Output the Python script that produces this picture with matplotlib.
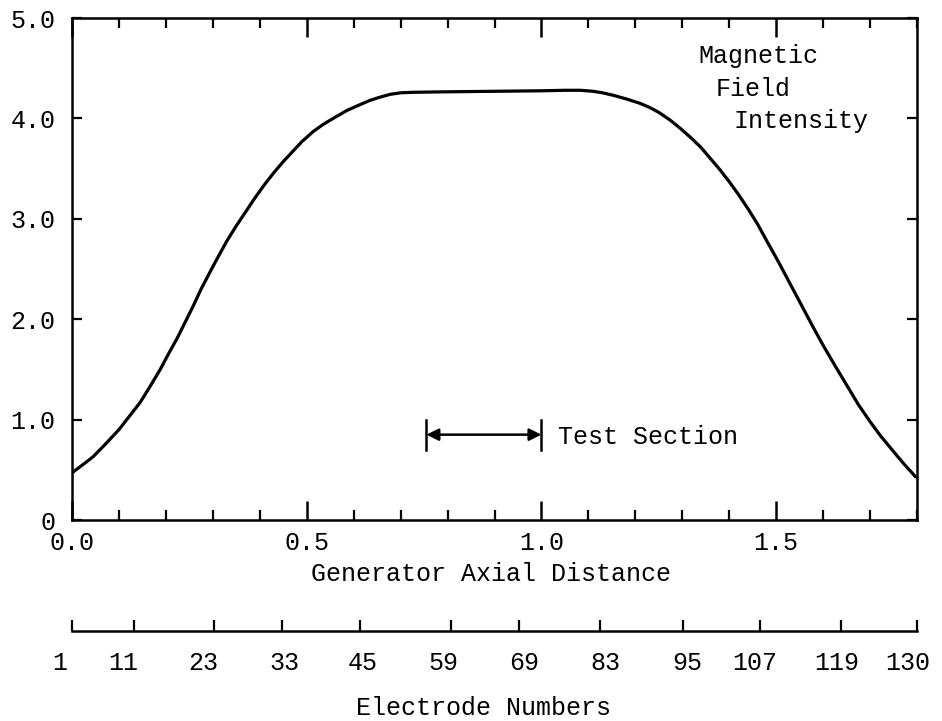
import matplotlib
matplotlib.use("Agg")
import matplotlib.pyplot as plt
from matplotlib.ticker import MultipleLocator
from matplotlib.transforms import blended_transform_factory

# curve
axial_distance = [0.00, 0.02, 0.045, 0.07, 0.10, 0.12, 0.145, 0.165, 0.188, 0.205,
                  0.224, 0.24, 0.258, 0.275, 0.294, 0.31, 0.33, 0.35, 0.37, 0.39,
                  0.41, 0.43, 0.45, 0.47, 0.49, 0.514, 0.535, 0.56, 0.586, 0.61,
                  0.635, 0.655, 0.678, 0.70, 0.727, 0.80, 0.90, 1.00, 1.05, 1.083,
                  1.11, 1.13, 1.153, 1.18, 1.21, 1.23, 1.25, 1.275, 1.296, 1.32,
                  1.34, 1.36, 1.38, 1.40, 1.42, 1.44, 1.46, 1.48, 1.505, 1.53,
                  1.555, 1.58, 1.60, 1.625, 1.652, 1.675, 1.70, 1.722, 1.745, 1.77,
                  1.797]
field_intensity = [0.47, 0.54, 0.63, 0.75, 0.90, 1.02, 1.17, 1.32, 1.50, 1.65,
                   1.81, 1.96, 2.13, 2.30, 2.47, 2.61, 2.78, 2.93, 3.07, 3.21,
                   3.34, 3.46, 3.57, 3.67, 3.77, 3.87, 3.94, 4.01, 4.08, 4.13,
                   4.18, 4.21, 4.24, 4.255, 4.26, 4.265, 4.27, 4.275, 4.28, 4.28,
                   4.27, 4.255, 4.23, 4.195, 4.15, 4.11, 4.06, 3.98, 3.90, 3.80,
                   3.71, 3.60, 3.49, 3.37, 3.24, 3.10, 2.95, 2.78, 2.57, 2.35,
                   2.13, 1.91, 1.74, 1.54, 1.33, 1.15, 0.98, 0.84, 0.71, 0.57,
                   0.43]

x_major = [0.0, 0.5, 1.0, 1.5]
x_major_labels = ["0.0", "0.5", "1.0", "1.5"]
y_ticks = [0, 1, 2, 3, 4, 5]
y_tick_labels = ["0", "1.0", "2.0", "3.0", "4.0", "5.0"]

test_section = (0.755, 1.0)
test_section_y = 0.85

electrode_numbers = ["1", "11", "23", "33", "45", "59", "69", "83", "95", "107", "119", "130"]
electrode_positions = [0.0, 0.132, 0.303, 0.447, 0.614, 0.807, 0.952, 1.125, 1.302,
                       1.466, 1.638, 1.80]
electrode_label_x = [-0.026, 0.109, 0.279, 0.452, 0.620, 0.792, 0.963, 1.136, 1.310,
                     1.455, 1.628, 1.781]

plt.rcParams["font.family"] = ["Liberation Mono", "DejaVu Sans Mono"]
plt.rcParams["font.size"] = 18

fig = plt.figure(figsize=(9.42, 7.21), dpi=100)
ax = fig.add_axes([72 / 942, 1 - 520 / 721, 845 / 942, 502 / 721])

ax.plot(axial_distance, field_intensity, color="black", lw=2.3,
        solid_capstyle="round", solid_joinstyle="round")
ax.set_xlim(0, 1.8)
ax.set_ylim(0, 5)

for s in ax.spines.values():
    s.set_linewidth(1.8)

ax.set_xticks(x_major)
ax.set_xticklabels(x_major_labels)
ax.xaxis.set_minor_locator(MultipleLocator(0.1))
ax.set_yticks(y_ticks)
ax.set_yticklabels(y_tick_labels)
ax.tick_params(axis="x", which="major", direction="in", top=True, length=14, width=1.8, pad=8)
ax.tick_params(axis="x", which="minor", direction="in", top=True, length=7, width=1.6)
ax.tick_params(axis="y", which="major", direction="in", right=True, length=7, width=1.6, pad=12)

# test section marker
ax.annotate("", xy=(test_section[1], test_section_y), xytext=(test_section[0], test_section_y),
            arrowprops=dict(arrowstyle="<|-|>", color="black", lw=1.8, mutation_scale=18,
                            shrinkA=0, shrinkB=0))
for xs in test_section:
    ax.plot([xs, xs], [test_section_y - 0.15, test_section_y + 0.15], color="black", lw=1.8)
ax.text(1.035, test_section_y - 0.02, "Test Section", ha="left", va="center")

ax.text(1.335, 4.62, "Magnetic", ha="left", va="center")
ax.text(1.37, 4.29, "Field", ha="left", va="center")
ax.text(1.41, 3.97, "Intensity", ha="left", va="center")

fig.text(491 / 942, 1 - 581 / 721, "Generator Axial Distance", ha="center", va="baseline")

# electrode number scale
ax2 = fig.add_axes([72 / 942, 1 - 631 / 721, 845 / 942, 0.0001])
ax2.set_xlim(0, 1.8)
ax2.set_yticks([])
for name in ["top", "left", "right"]:
    ax2.spines[name].set_visible(False)
ax2.spines["bottom"].set_linewidth(1.8)
ax2.set_xticks(electrode_positions)
ax2.set_xticklabels([])
ax2.tick_params(axis="x", direction="in", length=8, width=1.6)
label_tr = blended_transform_factory(ax2.transData, fig.transFigure)
for lx, name in zip(electrode_label_x, electrode_numbers):
    ax2.text(lx, 1 - 670 / 721, name, transform=label_tr, ha="center", va="baseline")

fig.text(484 / 942, 1 - 715 / 721, "Electrode Numbers", ha="center", va="baseline")

fig.savefig("out.png", dpi=100)
